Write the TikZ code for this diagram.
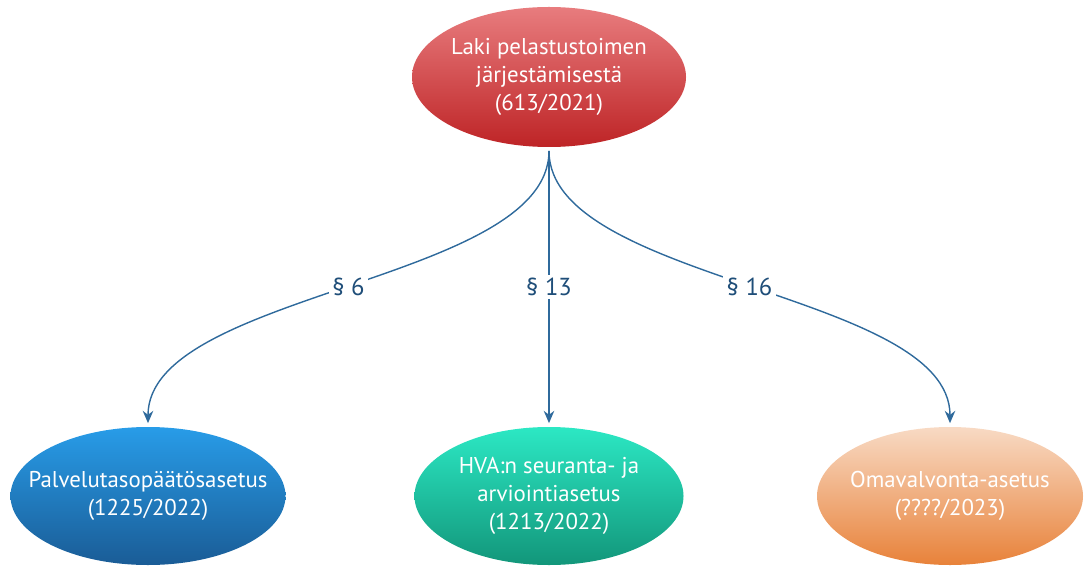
\documentclass[tikz,border=0pt]{standalone}
\usepackage{fontspec}
\setmainfont{PT Sans}
\usetikzlibrary{arrows.meta,shapes.geometric}
\definecolor{linkblue}{HTML}{2F6A9C}
\definecolor{labelblue}{HTML}{1F4E79}
\begin{document}
\begin{tikzpicture}[
  lawbox/.style={ellipse,draw=none,text=white,align=center,font=\fontsize{13}{16}\selectfont,inner xsep=-0.45cm,inner ysep=0pt},
  link/.style={-{Stealth[length=7pt,width=6pt]},linkblue,thick,shorten >=2pt,shorten <=2pt},
  sec/.style={fill=white,text=labelblue,font=\fontsize{14}{16}\selectfont,inner sep=2pt}]
  \useasboundingbox (0,0) rectangle (21.72,11.34);
  % law and its three decrees
  \node[lawbox,minimum width=5.48cm,minimum height=2.8cm,
    top color={rgb,255:red,232;green,124;blue,126},bottom color={rgb,255:red,190;green,36;blue,38}]
    (lain) at (10.98,9.8) {Laki pelastustoimen\\järjestämisestä\\(613/2021)};
  \node[lawbox,minimum width=5.5cm,minimum height=2.76cm,
    top color={rgb,255:red,40;green,156;blue,232},bottom color={rgb,255:red,26;green,92;blue,150}]
    (palv) at (2.96,1.42) {Palvelutasopäätösasetus\\(1225/2022)};
  \node[lawbox,minimum width=5.38cm,minimum height=2.76cm,
    top color={rgb,255:red,44;green,232;blue,196},bottom color={rgb,255:red,18;green,150;blue,122}]
    (hva) at (10.98,1.42) {HVA:n seuranta- ja\\arviointiasetus\\(1213/2022)};
  \node[lawbox,minimum width=5.32cm,minimum height=2.76cm,
    top color={rgb,255:red,248;green,218;blue,196},bottom color={rgb,255:red,232;green,130;blue,58}]
    (omav) at (19.0,1.42) {Omavalvonta-asetus\\(????/2023)};
  % sections
  \draw[link] (lain.south) .. controls +(0,-2.7) and +(0,2.7) .. node[sec] {\S~6} (palv.north);
  \draw[link] (lain.south) -- node[sec] {\S~13} (hva.north);
  \draw[link] (lain.south) .. controls +(0,-2.7) and +(0,2.7) .. node[sec] {\S~16} (omav.north);
\end{tikzpicture}
\end{document}
